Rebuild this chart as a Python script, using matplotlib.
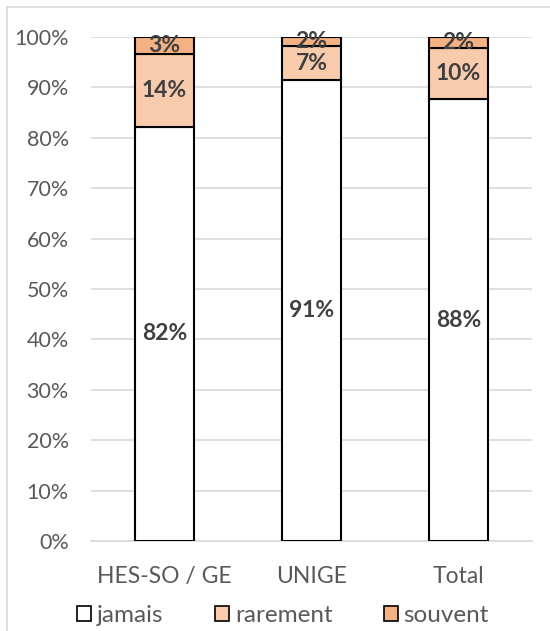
import matplotlib
matplotlib.use("Agg")
import matplotlib.pyplot as plt
from matplotlib.patches import Patch
from matplotlib.lines import Line2D

plt.rcParams['font.family'] = ['Lato', 'DejaVu Sans']

categories = ["HES-SO / GE", "UNIGE", "Total"]
jamais = [82.2, 91.4, 87.6]
rarement = [14.4, 6.8, 10.2]
souvent = [3.4, 1.8, 2.2]
series_names = ["jamais", "rarement", "souvent"]
yticks = [0, 10, 20, 30, 40, 50, 60, 70, 80, 90, 100]

colors = ["#FFFFFF", "#F8CBAD", "#F4B183"]
text_col = "#404040"
tick_col = "#595959"

fig = plt.figure(figsize=(5.5, 6.31), dpi=100)
ax = fig.add_axes([91/550, 1-541/631, (532-91)/550, (541-37)/631])

x = list(range(len(categories)))
width = 0.395
bottoms = [0.0]*len(categories)
for name, vals, col in zip(series_names, [jamais, rarement, souvent], colors):
    ax.bar(x, vals, width, bottom=bottoms, color=col, edgecolor="black", linewidth=1.5, zorder=3)
    for xi, b, v in zip(x, bottoms, vals):
        ax.text(xi, b + v/2, f"{round(v):.0f}%", ha="center", va="center",
                fontsize=16.5, fontweight="bold", color=text_col, zorder=4)
    bottoms = [b + v for b, v in zip(bottoms, vals)]

ax.set_xlim(-0.5, 2.5)
ax.set_ylim(0, 100)
ax.set_yticks(yticks)
ax.set_yticklabels([f"{t}%" for t in yticks])
ax.set_xticks(x)
ax.set_xticklabels(categories)
ax.tick_params(axis="both", length=0, colors=tick_col)
ax.tick_params(axis="y", pad=16, labelsize=15.5)
ax.tick_params(axis="x", pad=18, labelsize=16.5)
ax.grid(axis="y", color="#D9D9D9", linewidth=1.2, zorder=0)
for s in ["top", "right", "left"]:
    ax.spines[s].set_visible(False)
ax.spines["bottom"].set_color("#D9D9D9")
ax.spines["bottom"].set_linewidth(1.2)

handles = [Patch(facecolor=c, edgecolor="black", linewidth=1.2) for c in colors]
leg = fig.legend(handles, series_names, loc="center", bbox_to_anchor=(283/550, 1-616/631),
                 ncol=3, frameon=False, fontsize=17.5, handlelength=0.58, handleheight=0.58,
                 handletextpad=0.25, columnspacing=2.1, borderpad=0, borderaxespad=0)
for t in leg.get_texts():
    t.set_color(tick_col)

# chart frame lines
fig.add_artist(Line2D([7/550, 7/550], [0, 1-7/631], transform=fig.transFigure, color="#D9D9D9", linewidth=1.2))
fig.add_artist(Line2D([7/550, 1], [1-7/631, 1-7/631], transform=fig.transFigure, color="#D9D9D9", linewidth=1.2))

fig.savefig("out.png", dpi=100, facecolor="white")
